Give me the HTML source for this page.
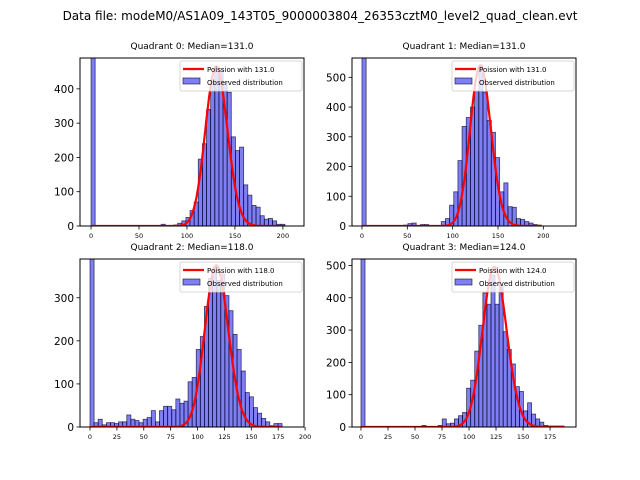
<!DOCTYPE html>
<html><head><meta charset="utf-8"><style>
body{margin:0;background:#fff;}
svg{display:block;font-family:"DejaVu Sans","Liberation Sans",sans-serif;}
</style></head><body>
<svg id="fig" width="640" height="480" viewBox="0 0 640 480">
<text x="320" y="20" text-anchor="middle" font-size="12">Data file: modeM0/AS1A09_143T05_9000003804_26353cztM0_level2_quad_clean.evt</text>
</svg>
<script>
// ---- data ----
const titles = ["Quadrant 0: Median=131.0","Quadrant 1: Median=131.0","Quadrant 2: Median=118.0","Quadrant 3: Median=124.0"];
const medians = [131,131,118,124];
const binWidths = [4.3,4.6,3.8,3.76];
const curvePeaks = [465,540,375,495];
const counts0 = [2000,0,0,0,0,0,0,0,0,0,0,0,0,0,0,0,0,5,0,0,3,8,15,25,45,70,195,240,340,420,465,460,420,390,260,220,230,120,90,60,55,30,20,22,15,5,5];
const counts1 = [2000,0,0,0,0,0,0,0,0,0,3,8,10,0,5,5,0,0,0,15,25,70,115,220,335,365,400,455,540,450,355,315,230,115,145,65,63,25,22,15,10,5,3];
const counts2 = [2000,10,18,5,10,10,8,12,12,28,18,15,10,18,22,38,12,38,48,48,40,65,55,60,105,115,180,210,280,345,370,340,355,305,270,215,180,130,80,70,45,32,20,12,3,8,8];
const counts3 = [2000,0,0,0,0,0,0,0,0,0,2,0,0,0,0,5,0,0,0,5,25,10,12,25,35,45,120,145,235,315,415,380,470,380,440,295,240,195,125,110,50,75,40,25,15,5,3,3,3,3];
const counts = [counts0,counts1,counts2,counts3];
const xTicks = [[0,50,100,150,200],[0,50,100,150,200],[0,25,50,75,100,125,150,175,200],[0,25,50,75,100,125,150,175]];
const yTicks = [[0,100,200,300,400],[0,100,200,300,400,500],[0,100,200,300],[0,100,200,300,400,500]];
const xLims = [[-11.5,222],[-11,236],[-9.3,199],[-8.3,199]];
const yLims = [[0,490],[0,565],[0,390],[0,520]];
// ---- layout ----
const boxes = [[80,58,224,168],[352,58,224,168],[80,259,224,168],[352,259,224,168]];
const NS="http://www.w3.org/2000/svg";
const svg=document.getElementById('fig');
function mk(tag,attrs,parent){const e=document.createElementNS(NS,tag);for(const k in attrs)e.setAttribute(k,attrs[k]);(parent||svg).appendChild(e);return e;}
function lgamma(n){let s=0;for(let i=2;i<=n;i++)s+=Math.log(i);return s;}
for(let p=0;p<4;p++){
  const [L,T,W,H]=boxes[p];
  const g=mk('g',{});
  
  
  const cid='clip'+p;
  const cp=mk('clipPath',{id:cid},g);mk('rect',{x:L,y:T,width:W,height:H},cp);
  const sx=v=>L+(v-xLims[p][0])/(xLims[p][1]-xLims[p][0])*W;
  const sy=v=>T+H-(v-yLims[p][0])/(yLims[p][1]-yLims[p][0])*H;
  const t=mk('text',{x:L+W/2,y:T-9,'text-anchor':'middle','font-size':'9'},g);t.textContent=titles[p];
  
  
  const plot=mk('g',{'clip-path':'url(#'+cid+')'},g);
  const bw=binWidths[p];
  counts[p].forEach((c,k)=>{
    if(c<=0)return;
    const x0=sx(k*bw),x1=sx((k+1)*bw),y=sy(c);
    const r=mk('rect',{x:x0,y:y,width:x1-x0,height:sy(0)-y,fill:'rgba(0,0,230,0.5)',stroke:'rgba(0,0,40,0.7)','stroke-width':'0.8'},plot);
    
    
  });
  const m=medians[p];const pk=Math.exp(m*Math.log(m)-m-lgamma(m));
  const maxX=counts[p].length*bw;let d='';
  for(let n=0;n<=Math.round(maxX);n++){const v=Math.exp(n*Math.log(Math.max(m,1e-9))-m-lgamma(n))/pk*curvePeaks[p];d+=(n?'L':'M')+sx(n).toFixed(1)+','+sy(v).toFixed(1);}
  const cu=mk('path',{d:d,fill:'none',stroke:'#ff0000','stroke-width':'2.2'},plot);
  
  
  const fr=mk('rect',{x:L,y:T,width:W,height:H,fill:'none',stroke:'#000','stroke-width':'1'},g);
  
  
  xTicks[p].forEach(v=>{const x=sx(v);mk('line',{x1:x,x2:x,y1:T+H,y2:T+H+3.5,stroke:'#000','stroke-width':'0.8'},g);
    const tx=mk('text',{x:x,y:T+H+12,'text-anchor':'middle','font-size':'6.5'},g);tx.textContent=v;
    
    });
  yTicks[p].forEach(v=>{const y=sy(v);mk('line',{x1:L-3.5,x2:L,y1:y,y2:y,stroke:'#000','stroke-width':'0.8'},g);
    const ty=mk('text',{x:L-6,y:y+4,'text-anchor':'end','font-size':'10.5'},g);ty.textContent=v;
    
    });
  const lg=mk('g',{},g);
  
  
  const lx=L+W-124,ly=T+3;
  mk('rect',{x:lx,y:ly,width:122,height:30,rx:2,fill:'rgba(255,255,255,0.8)',stroke:'#ccc','stroke-width':'0.8'},lg);
  mk('line',{x1:lx+3,x2:lx+24,y1:ly+8,y2:ly+8,stroke:'#ff0000','stroke-width':'2.2'},lg);
  const l1=mk('text',{x:lx+27,y:ly+11,'font-size':'7'},lg);l1.textContent='Poission with '+medians[p].toFixed(1);
  
  
  mk('rect',{x:lx+3,y:ly+17,width:17,height:6,fill:'rgba(0,0,230,0.5)',stroke:'rgba(0,0,40,0.7)','stroke-width':'0.8'},lg);
  const l2=mk('text',{x:lx+27,y:ly+24,'font-size':'7'},lg);l2.textContent='Observed distribution';
  
  
}
</script>
</body></html>
